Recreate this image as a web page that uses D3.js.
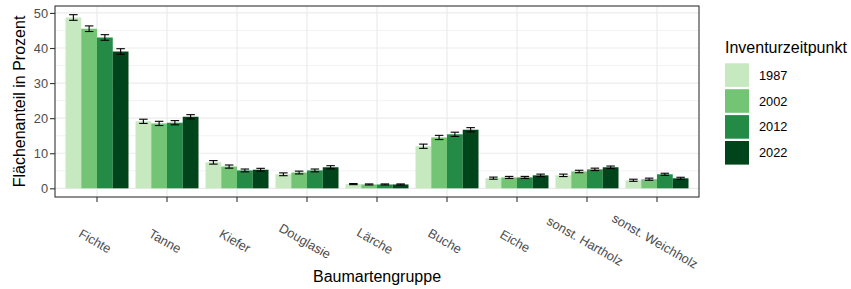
<!DOCTYPE html>
<html>
<head>
  <meta charset="utf-8">
  <script src="https://d3js.org/d3.v7.min.js"></script>
  <style>
    body { margin: 0; background: #fff; }
    text { font-family: "Liberation Sans", Arial, sans-serif; }
    .tick-label { font-size: 12.8px; fill: #4d4d4d; }
    .axis-title { font-size: 16px; fill: #000; }
    .legend-label { font-size: 12.8px; fill: #000; }
  </style>
</head>
<body>
  <svg width="851" height="289"></svg>
  <script>
    // data
    var categories = ["Fichte", "Tanne", "Kiefer", "Douglasie", "Lärche", "Buche", "Eiche", "sonst. Hartholz", "sonst. Weichholz"];
    var years = ["1987", "2002", "2012", "2022"];
    var values1987 = [48.7, 19.1, 7.4, 4.0, 1.2, 12.0, 2.9, 3.7, 2.3];
    var values2002 = [45.5, 18.5, 6.2, 4.5, 1.1, 14.5, 3.1, 4.8, 2.6];
    var values2012 = [43.0, 18.7, 5.1, 5.1, 1.1, 15.4, 3.1, 5.4, 4.0];
    var values2022 = [39.0, 20.4, 5.3, 6.0, 1.1, 16.7, 3.7, 6.0, 2.85];
    var errors1987 = [0.8, 0.6, 0.5, 0.4, 0.15, 0.6, 0.3, 0.35, 0.3];
    var errors2002 = [0.8, 0.6, 0.45, 0.4, 0.15, 0.6, 0.3, 0.35, 0.3];
    var errors2012 = [0.8, 0.6, 0.4, 0.4, 0.15, 0.6, 0.3, 0.35, 0.3];
    var errors2022 = [0.8, 0.6, 0.4, 0.45, 0.15, 0.6, 0.35, 0.35, 0.3];
    var yTicks = [0, 10, 20, 30, 40, 50];
    var yMinorTicks = [5, 15, 25, 35, 45];
    var colors = ["#c7e9c0", "#74c476", "#238b45", "#00441b"];

    var valueSets = [values1987, values2002, values2012, values2022];
    var errorSets = [errors1987, errors2002, errors2012, errors2022];

    var rows = [];
    categories.forEach(function(c, i) {
      years.forEach(function(yr, j) {
        rows.push({cat: c, year: yr, value: valueSets[j][i], err: errorSets[j][i]});
      });
    });

    var svg = d3.select("svg");
    var panel = {left: 55, right: 699, top: 6, bottom: 197};

    var x = d3.scaleBand().domain(categories).range([panel.left, panel.right]).paddingInner(0).paddingOuter(0.1);
    var xSub = d3.scaleBand().domain(years).range([x.bandwidth() * 0.05, x.bandwidth() * 0.95]);

    var yMax = d3.max(rows, d => d.value + d.err);
    var pad = yMax * 0.05;
    var y = d3.scaleLinear().domain([-pad, yMax + pad]).range([panel.bottom, panel.top]);

    // grid
    var grid = svg.append("g");
    grid.selectAll(".minor").data(yMinorTicks).enter().append("line")
      .attr("x1", panel.left).attr("x2", panel.right)
      .attr("y1", d => y(d)).attr("y2", d => y(d))
      .attr("stroke", "#ebebeb").attr("stroke-width", 0.6);
    grid.selectAll(".major").data(yTicks).enter().append("line")
      .attr("x1", panel.left).attr("x2", panel.right)
      .attr("y1", d => y(d)).attr("y2", d => y(d))
      .attr("stroke", "#ebebeb").attr("stroke-width", 1.2);
    grid.selectAll(".vmajor").data(categories).enter().append("line")
      .attr("x1", d => x(d) + x.bandwidth() / 2).attr("x2", d => x(d) + x.bandwidth() / 2)
      .attr("y1", panel.top).attr("y2", panel.bottom)
      .attr("stroke", "#ebebeb").attr("stroke-width", 1.2);

    // bars
    svg.append("g").selectAll("rect").data(rows).enter().append("rect")
      .attr("x", d => x(d.cat) + xSub(d.year))
      .attr("y", d => y(d.value))
      .attr("width", xSub.bandwidth())
      .attr("height", d => y(0) - y(d.value))
      .attr("fill", d => colors[years.indexOf(d.year)]);

    // error bars
    var capW = xSub.bandwidth() * 0.54;
    var eb = svg.append("g").attr("stroke", "#000").attr("stroke-width", 1.1).attr("fill", "none");
    rows.forEach(function(d) {
      var cx = x(d.cat) + xSub(d.year) + xSub.bandwidth() / 2;
      var y1 = y(d.value + d.err), y2 = y(d.value - d.err);
      eb.append("line").attr("x1", cx).attr("x2", cx).attr("y1", y1).attr("y2", y2);
      eb.append("line").attr("x1", cx - capW / 2).attr("x2", cx + capW / 2).attr("y1", y1).attr("y2", y1);
      eb.append("line").attr("x1", cx - capW / 2).attr("x2", cx + capW / 2).attr("y1", y2).attr("y2", y2);
    });

    // panel border
    svg.append("rect")
      .attr("x", panel.left).attr("y", panel.top)
      .attr("width", panel.right - panel.left).attr("height", panel.bottom - panel.top)
      .attr("fill", "none").attr("stroke", "#333333").attr("stroke-width", 1.1);

    // y axis
    var yAxis = svg.append("g")
      .attr("transform", "translate(" + panel.left + ",0)")
      .call(d3.axisLeft(y).tickValues(yTicks).tickSize(5).tickPadding(2));
    yAxis.select(".domain").remove();
    yAxis.selectAll(".tick line").attr("stroke", "#333333").attr("stroke-width", 1.1);
    yAxis.selectAll(".tick text").attr("class", "tick-label").attr("font-size", null).attr("font-family", null);

    // x axis
    var xAxis = svg.append("g")
      .attr("transform", "translate(0," + panel.bottom + ")")
      .call(d3.axisBottom(x).tickSize(5));
    xAxis.select(".domain").remove();
    xAxis.selectAll(".tick line").attr("stroke", "#333333").attr("stroke-width", 1.1);
    xAxis.selectAll(".tick text")
      .attr("class", "tick-label")
      .attr("font-size", null).attr("font-family", null)
      .attr("y", null).attr("dy", null)
      .attr("text-anchor", "middle")
      .attr("dominant-baseline", "central")
      .attr("transform", "translate(-2,44) rotate(30)");

    // axis titles
    svg.append("text").attr("class", "axis-title")
      .attr("x", (panel.left + panel.right) / 2).attr("y", 282)
      .attr("text-anchor", "middle").text("Baumartengruppe");
    svg.append("text").attr("class", "axis-title")
      .attr("transform", "translate(25," + (panel.top + panel.bottom) / 2 + ") rotate(-90)")
      .attr("text-anchor", "middle").text("Flächenanteil in Prozent");

    // legend
    var legend = svg.append("g").attr("transform", "translate(725,0)");
    legend.append("text").attr("class", "axis-title").attr("x", 0).attr("y", 53).text("Inventurzeitpunkt");
    var keySize = 23.6, keyStep = 25.9, keyTop = 63.3;
    years.forEach(function(yr, j) {
      legend.append("rect")
        .attr("x", 0).attr("y", keyTop + j * keyStep)
        .attr("width", 24).attr("height", keySize)
        .attr("fill", colors[j]);
      legend.append("text").attr("class", "legend-label")
        .attr("x", 34).attr("y", keyTop + j * keyStep + keySize / 2)
        .attr("dominant-baseline", "central")
        .text(yr);
    });
  </script>
</body>
</html>
